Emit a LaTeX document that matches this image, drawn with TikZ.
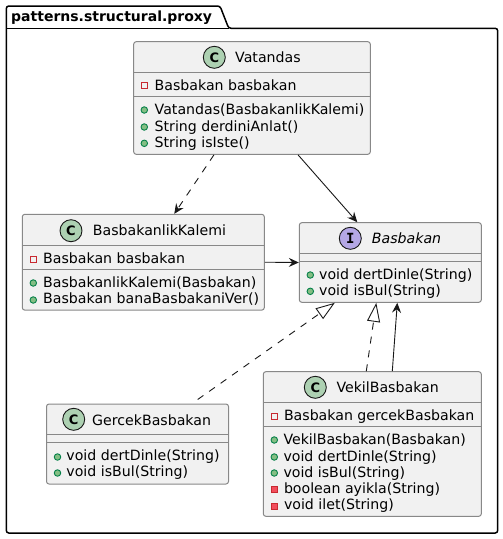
\documentclass[tikz,border=0pt]{standalone}
\usepackage{fontspec}
\setmainfont{DejaVu Sans}
\newfontfamily\spotfont{DejaVu Sans Mono}
\usetikzlibrary{arrows.meta}
\definecolor{boxfill}{HTML}{F1F1F1}
\definecolor{boxline}{HTML}{888888}
\definecolor{inkline}{HTML}{181818}
\tikzset{
	classbox/.style={draw=boxline, fill=boxfill, line width=1pt, rounded corners=2.5pt, inner sep=0pt},
	sepline/.style={draw=boxline, line width=1pt},
	classspot/.style={circle, draw=inkline, line width=0.9pt, minimum size=22pt, inner sep=0pt, font=\bfseries\fontsize{13}{13}\selectfont},
	member/.style={anchor=base west, inner sep=0pt, font=\fontsize{14.15}{16}\selectfont},
	pubdot/.style={circle, draw=publine, fill=pubfill, line width=0.9pt, minimum size=6.5pt, inner sep=0pt},
	privbox/.style={rectangle, draw=privline, line width=0.9pt, minimum size=6pt, inner sep=0pt},
	privfilled/.style={rectangle, draw=privedge, fill=privfill, line width=0.9pt, minimum size=6pt, inner sep=0pt},
	depend/.style={draw=inkline, line width=0.9pt, -{Stealth[length=10pt, width=9pt, inset=3.5pt]}},
	dashline/.style={dash pattern=on 7pt off 7pt},
	realize/.style={draw=inkline, line width=0.9pt, dashline, -{Triangle[open, length=19pt, width=13pt]}}
}
\definecolor{publine}{HTML}{038048}
\definecolor{pubfill}{HTML}{84BE84}
\definecolor{privline}{HTML}{C82930}
\definecolor{privedge}{HTML}{C82930}
\definecolor{privfill}{HTML}{F24D5C}
\definecolor{classcolor}{HTML}{ADD1B2}
\definecolor{ifacecolor}{HTML}{B4A7E5}
\begin{document}
\begin{tikzpicture}[x=1pt, y=-1pt]
	\useasboundingbox (0,0) rectangle (503,539);

	% package
	\draw[line width=1.5pt, rounded corners=2.5pt] (6.3,28.3) -- (6.3,6) -- (220,6) -- (228.7,28.3) -- (497.7,28.3) -- (497.7,533) -- (6.3,533) -- cycle;
	\draw[line width=1.5pt] (6.3,28.3) -- (228.7,28.3);
	\node[anchor=base west, inner sep=0pt, font=\bfseries\fontsize{14}{16}\selectfont] (pkgtitle) at (11,21) {patterns.structural.proxy};

	% class boxes
	\node[classbox, minimum width=236.6pt, minimum height=112.6pt] (vatandas) at (252,98) {};
	\node[classbox, minimum width=242pt, minimum height=95.8pt] (kalemi) at (143.3,262.2) {};
	\node[classbox, minimum width=182pt, minimum height=79.6pt] (basbakan) at (390.3,262.5) {};
	\node[classbox, minimum width=182pt, minimum height=80pt] (gercek) at (137.5,444) {};
	\node[classbox, minimum width=218pt, minimum height=144.6pt] (vekil) at (372.3,444) {};

	% compartments
	\draw[sepline] ([yshift=-31.6pt]vatandas.north west) -- ([yshift=-31.6pt]vatandas.north east);
	\draw[sepline] ([yshift=-55.6pt]vatandas.north west) -- ([yshift=-55.6pt]vatandas.north east);
	\draw[sepline] ([yshift=-32pt]kalemi.north west) -- ([yshift=-32pt]kalemi.north east);
	\draw[sepline] ([yshift=-56pt]kalemi.north west) -- ([yshift=-56pt]kalemi.north east);
	\draw[sepline] ([yshift=-31.6pt]basbakan.north west) -- ([yshift=-31.6pt]basbakan.north east);
	\draw[sepline] ([yshift=-39.6pt]basbakan.north west) -- ([yshift=-39.6pt]basbakan.north east);
	\draw[sepline] ([yshift=-31.3pt]gercek.north west) -- ([yshift=-31.3pt]gercek.north east);
	\draw[sepline] ([yshift=-39.3pt]gercek.north west) -- ([yshift=-39.3pt]gercek.north east);
	\draw[sepline] ([yshift=-31.6pt]vekil.north west) -- ([yshift=-31.6pt]vekil.north east);
	\draw[sepline] ([yshift=-55.6pt]vekil.north west) -- ([yshift=-55.6pt]vekil.north east);

	% Vatandas
	\node[classspot, fill=classcolor] (vatandasspot) at (214.3,57.3) {C};
	\node[member] (vatandastitle) at (235,62.3) {Vatandas};
	\node[privbox] (vmark1) at (144.3,85.5) {};
	\node[member] (vrow1) at (154.5,90.5) {Basbakan basbakan};
	\node[pubdot] (vmark2) at (144.3,110) {};
	\node[member] (vrow2) at (154.5,114.5) {Vatandas(BasbakanlikKalemi)};
	\node[pubdot] (vmark3) at (144.3,127) {};
	\node[member] (vrow3) at (154.5,131) {String derdiniAnlat()};
	\node[pubdot] (vmark4) at (144.3,143.3) {};
	\node[member] (vrow4) at (154.5,147.3) {String isIste()};

	% BasbakanlikKalemi
	\node[classspot, fill=classcolor] (kalemispot) at (71,230.7) {C};
	\node[member] (kalemititle) at (92.7,235) {BasbakanlikKalemi};
	\node[privbox] (kmark1) at (33.3,259) {};
	\node[member] (krow1) at (43,263.3) {Basbakan basbakan};
	\node[pubdot] (kmark2) at (33.3,283) {};
	\node[member] (krow2) at (43,287.3) {BasbakanlikKalemi(Basbakan)};
	\node[pubdot] (kmark3) at (33.3,300) {};
	\node[member] (krow3) at (43,303.8) {Basbakan banaBasbakaniVer()};

	% Basbakan
	\node[classspot, fill=ifacecolor, font=\spotfont\bfseries\fontsize{14}{14}\selectfont] (basbakanspot) at (350.3,238.3) {I};
	\node[member, font=\itshape\fontsize{14.15}{16}\selectfont] (basbakantitle) at (371.7,243) {Basbakan};
	\node[pubdot] (bmark1) at (310.3,275) {};
	\node[member] (brow1) at (319,279) {void dertDinle(String)};
	\node[pubdot] (bmark2) at (310.3,291.3) {};
	\node[member] (brow2) at (319,295.5) {void isBul(String)};

	% GercekBasbakan
	\node[classspot, fill=classcolor] (gercekspot) at (73.7,419.3) {C};
	\node[member] (gercektitle) at (92,425) {GercekBasbakan};
	\node[pubdot] (gmark1) at (57.5,457) {};
	\node[member] (grow1) at (66.2,460.2) {void dertDinle(String)};
	\node[pubdot] (gmark2) at (57.5,473) {};
	\node[member] (grow2) at (66.2,476.6) {void isBul(String)};

	% VekilBasbakan
	\node[classspot, fill=classcolor] (vekilspot) at (315.3,387.3) {C};
	\node[member] (vekiltitle) at (336.3,392.3) {VekilBasbakan};
	\node[privbox] (emark1) at (274.3,416) {};
	\node[member] (erow1) at (283.8,420) {Basbakan gercekBasbakan};
	\node[pubdot] (emark2) at (274.3,440) {};
	\node[member] (erow2) at (283.3,444.3) {VekilBasbakan(Basbakan)};
	\node[pubdot] (emark3) at (274.3,457) {};
	\node[member] (erow3) at (283.3,461) {void dertDinle(String)};
	\node[pubdot] (emark4) at (274.3,473) {};
	\node[member] (erow4) at (283.3,477.3) {void isBul(String)};
	\node[privfilled] (emark5) at (274.3,489) {};
	\node[member] (erow5) at (283.8,493.3) {boolean ayikla(String)};
	\node[privfilled] (emark6) at (274.3,506) {};
	\node[member] (erow6) at (283.8,509.3) {void ilet(String)};

	% relations
	\draw[depend, dashline] ([xshift=-38pt]vatandas.south) -- ([xshift=31pt]kalemi.north);
	\draw[depend] ([xshift=46pt]vatandas.south) -- ([xshift=-33pt]basbakan.north);
	\draw[depend] (kalemi.east) -- (basbakan.west);
	\draw[realize, dash phase=7pt] ([xshift=54.5pt]gercek.north) -- ([xshift=-55.5pt]basbakan.south);
	\draw[realize] ([xshift=-6pt]vekil.north) -- ([xshift=-14pt]basbakan.south);
	\draw[depend] ([xshift=20pt]vekil.north) -- ([xshift=7pt]basbakan.south);
\end{tikzpicture}
\end{document}
